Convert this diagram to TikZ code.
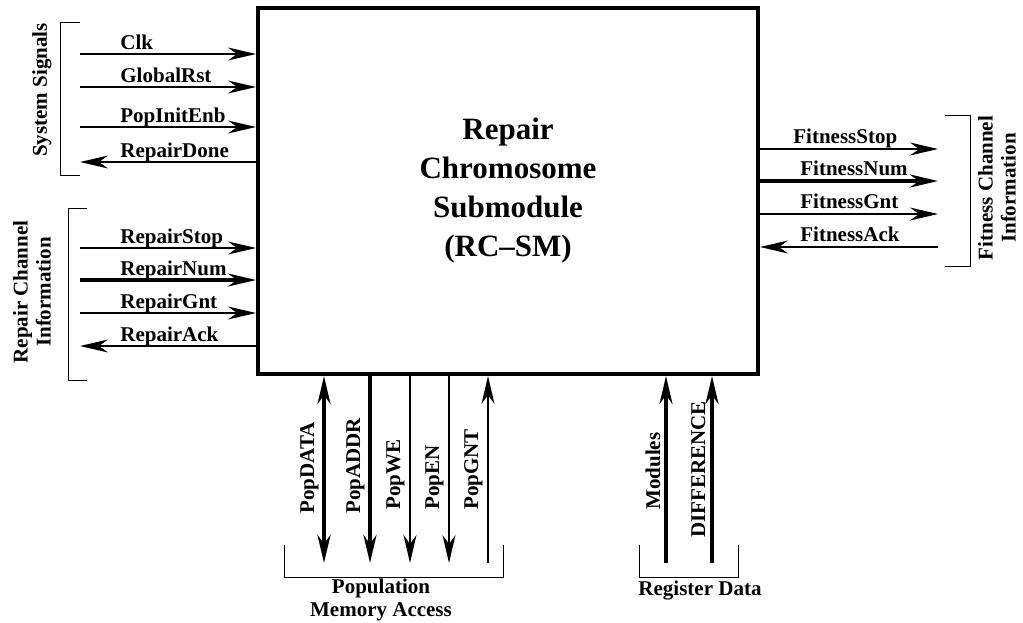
\documentclass[tikz,border=0pt]{standalone}
\usepackage{fontspec}
\setmainfont{Liberation Serif}
\usetikzlibrary{arrows.meta}

\begin{document}
\begin{tikzpicture}[x=0.5pt, y=-0.5pt, font=\fontsize{10.5}{11.5}\selectfont\bfseries,
    >={Stealth[length=14pt,width=6.5pt,inset=4.5pt]},
    sig/.style={line width=0.7pt, ->},
    bus/.style={line width=2pt, ->},
    lbl/.style={inner sep=0pt, anchor=base west},
    vlbl/.style={lbl, rotate=90},
    brace/.style={line width=0.5pt}]
  \useasboundingbox (0,0) rectangle (1023,622);

  % the submodule
  \node[draw, line width=2pt, minimum width=250pt, minimum height=183pt, align=center,
        font=\fontsize{15.5}{19.5}\selectfont\bfseries] (rcsm) at (508,191)
        {Repair\\Chromosome\\Submodule\\(RC–SM)};

  % system signals
  \coordinate (clk) at (80,54);
  \coordinate (rst) at (80,87);
  \coordinate (init) at (80,127);
  \coordinate (done) at (80,162);
  \draw[sig] (clk) -- (clk -| rcsm.west);
  \draw[sig] (rst) -- (rst -| rcsm.west);
  \draw[sig] (init) -- (init -| rcsm.west);
  \draw[sig] (done -| rcsm.west) -- (done);
  \node[lbl] (clklbl) at (120,49) {Clk};
  \node[lbl] (rstlbl) at (120,82) {GlobalRst};
  \node[lbl] (initlbl) at (120,122) {PopInitEnb};
  \node[lbl] (donelbl) at (120,157) {RepairDone};
  \draw[brace] (80,22) -- (60,22) -- (60,175) -- (80,175);
  \node[rotate=90] (syslbl) at (42,90) {System Signals};

  % repair channel
  \coordinate (rstop) at (80,248);
  \coordinate (rnum) at (80,280);
  \coordinate (rgnt) at (80,313);
  \coordinate (rack) at (80,346);
  \draw[sig] (rstop) -- (rstop -| rcsm.west);
  \draw[bus] (rnum) -- (rnum -| rcsm.west);
  \draw[sig] (rgnt) -- (rgnt -| rcsm.west);
  \draw[sig] (rack -| rcsm.west) -- (rack);
  \node[lbl] (rstoplbl) at (120,243) {RepairStop};
  \node[lbl] (rnumlbl) at (120,275) {RepairNum};
  \node[lbl] (rgntlbl) at (120,308) {RepairGnt};
  \node[lbl] (racklbl) at (120,341) {RepairAck};
  \draw[brace] (87,208) -- (68,208) -- (68,380) -- (87,380);
  \node[rotate=90, align=center] (rptlbl) at (32,292) {Repair Channel\\Information};

  % fitness channel
  \coordinate (fstop) at (938,149);
  \coordinate (fnum) at (938,181);
  \coordinate (fgnt) at (938,214);
  \coordinate (fack) at (938,247);
  \draw[sig] (fstop -| rcsm.east) -- (fstop);
  \draw[bus] (fnum -| rcsm.east) -- (fnum);
  \draw[sig] (fgnt -| rcsm.east) -- (fgnt);
  \draw[sig] (fack) -- (fack -| rcsm.east);
  \node[lbl] (fstoplbl) at (793,143) {FitnessStop};
  \node[lbl] (fnumlbl) at (800,175) {FitnessNum};
  \node[lbl] (fgntlbl) at (800,208) {FitnessGnt};
  \node[lbl] (facklbl) at (800,241) {FitnessAck};
  \draw[brace] (945,115) -- (970,115) -- (970,266) -- (945,266);
  \node[rotate=90, align=center] (fitlbl) at (997,188) {Fitness Channel\\Information};

  % population memory access
  \coordinate (pdata) at (324,563);
  \coordinate (paddr) at (370,563);
  \coordinate (pwe) at (410,563);
  \coordinate (pen) at (449,563);
  \coordinate (pgnt) at (488,563);
  \draw[line width=2pt, <->] (rcsm.south -| pdata) -- (pdata);
  \draw[bus] (rcsm.south -| paddr) -- (paddr);
  \draw[sig] (rcsm.south -| pwe) -- (pwe);
  \draw[sig] (rcsm.south -| pen) -- (pen);
  \draw[sig] (pgnt) -- (rcsm.south -| pgnt);
  \node[vlbl] (pdatalbl) at (314,514) {PopDATA};
  \node[vlbl] (paddrlbl) at (360,514) {PopADDR};
  \node[vlbl] (pwelbl) at (400,510) {PopWE};
  \node[vlbl] (penlbl) at (439,510) {PopEN};
  \node[vlbl] (pgntlbl) at (478,510) {PopGNT};
  \draw[brace] (284,545) -- (284,577) -- (503,577) -- (503,545);
  \node[align=center] (poplbl) at (381,600) {Population\\Memory Access};

  % register data
  \coordinate (mods) at (666,563);
  \coordinate (diff) at (712,563);
  \draw[bus] (mods) -- (rcsm.south -| mods);
  \draw[bus] (diff) -- (rcsm.south -| diff);
  \node[vlbl] (modslbl) at (660,510) {Modules};
  \node[vlbl] (difflbl) at (705,538) {DIFFERENCE};
  \draw[brace] (639,545) -- (639,577) -- (738,577) -- (738,545);
  \node (reglbl) at (700,591) {Register Data};
\end{tikzpicture}
\end{document}
